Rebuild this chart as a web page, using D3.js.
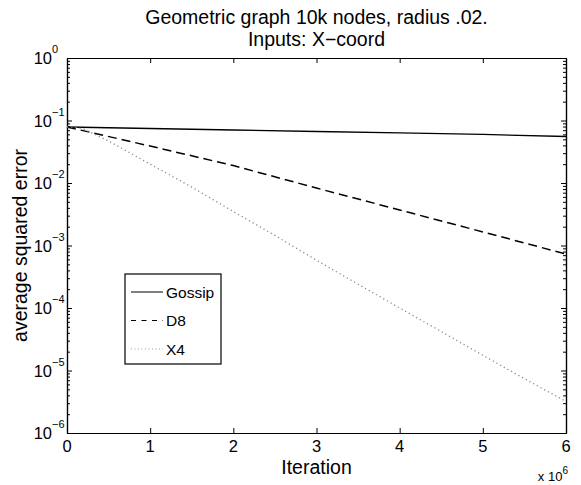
<!DOCTYPE html>
<html><head><meta charset="utf-8">
<script src="https://cdn.jsdelivr.net/npm/d3@7"></script>
<style>
body{margin:0;background:#fff;}
svg{font-family:"Liberation Sans",Arial,Helvetica,sans-serif;}
</style></head>
<body><svg id="chart" width="581" height="485"></svg>
<script>
// ---- data (x in units of 10^6 iterations) ----
const titleLines = ["Geometric graph 10k nodes, radius .02.", "Inputs: X\u2212coord"];
const seriesNames = ["Gossip", "D8", "X4"];
const gossipX = [0, 1, 2, 3, 4, 5, 6];
const gossipY = [0.0787, 0.0745, 0.0705, 0.0667, 0.0632, 0.0598, 0.0555];
const d8X = [0, 1, 2, 3, 4, 5, 6];
const d8Y = [0.0787, 0.039, 0.019, 0.0083, 0.0037, 0.00165, 0.00073];
const x4X = [0, 0.1, 0.2, 0.3, 0.5, 1, 1.5, 2, 2.5, 3, 3.5, 4, 4.5, 5, 5.5, 6];
const x4Y = [0.0787, 0.078, 0.073, 0.063, 0.047, 0.020, 0.0086, 0.0035, 0.00145, 0.00058, 0.00024, 0.0001, 0.000042, 0.0000175, 0.0000074, 0.0000032];
const xTicks = [0, 1, 2, 3, 4, 5, 6];
const yExponents = [0, -1, -2, -3, -4, -5, -6];

const svg = d3.select("#chart");
const L = 67, R = 566, T = 58, B = 433;
const x = d3.scaleLinear().domain([0, 6]).range([L, R]);
const y = d3.scaleLog().domain([1e-6, 1]).range([B, T]);

const decades = yExponents.map(e => Math.pow(10, e));
const minors = [];
for (let e = -6; e < 0; e++) for (let m = 2; m <= 9; m++) minors.push(m * Math.pow(10, e));

function styleAxis(g) {
  g.select(".domain").attr("stroke", "#000").attr("stroke-width", 1.2);
  g.selectAll(".tick line").attr("stroke", "#000");
  g.selectAll("text").remove();
}
svg.append("g").attr("transform", `translate(0,${B})`)
  .call(d3.axisBottom(x).tickValues(xTicks).tickSizeInner(-5).tickSizeOuter(0)).call(styleAxis);
svg.append("g").attr("transform", `translate(0,${T})`)
  .call(d3.axisTop(x).tickValues(xTicks).tickSizeInner(-5).tickSizeOuter(0)).call(styleAxis);
svg.append("g").attr("transform", `translate(${L},0)`)
  .call(d3.axisLeft(y).tickValues(decades).tickSizeInner(-5).tickSizeOuter(0)).call(styleAxis);
svg.append("g").attr("transform", `translate(${L},0)`)
  .call(d3.axisLeft(y).tickValues(minors).tickSizeInner(-3).tickSizeOuter(0)).call(styleAxis);
svg.append("g").attr("transform", `translate(${R},0)`)
  .call(d3.axisRight(y).tickValues(decades).tickSizeInner(-5).tickSizeOuter(0)).call(styleAxis);
svg.append("g").attr("transform", `translate(${R},0)`)
  .call(d3.axisRight(y).tickValues(minors).tickSizeInner(-3).tickSizeOuter(0)).call(styleAxis);

// x tick labels
svg.append("g").selectAll("text").data(xTicks).join("text")
  .attr("x", d => x(d)).attr("y", B + 19).attr("text-anchor", "middle")
  .attr("font-size", 16.5).text(d => d);
// multiplier
const mult = svg.append("text").attr("x", 568).attr("y", 481).attr("font-size", 13).attr("text-anchor", "end");
mult.append("tspan").text("x 10");
mult.append("tspan").attr("dy", -7).attr("font-size", 10).text("6");

// y tick labels
const yl = svg.append("g").selectAll("text").data(yExponents).join("text")
  .attr("x", 52).attr("y", d => y(Math.pow(10, d)) + 6).attr("font-size", 16.5);
yl.append("tspan").attr("text-anchor", "end").text("10");
yl.each(function(d) {
  d3.select(this).append("tspan").attr("dy", -11).attr("font-size", 11)
    .text(d === 0 ? "0" : "\u2212" + Math.abs(d));
});
// right-align "10" so the exponent follows it
yl.each(function() {
  const t = d3.select(this);
  const w = t.select("tspan").node().getComputedTextLength();
  t.attr("text-anchor", null).select("tspan").attr("text-anchor", null);
  t.attr("x", 52 - w);
});

// axis labels
svg.append("text").attr("x", (L + R) / 2).attr("y", 474).attr("text-anchor", "middle").attr("font-size", 19.5).text("Iteration");
svg.append("text").attr("transform", `translate(27,${(T + B) / 2}) rotate(-90)`).attr("text-anchor", "middle")
  .attr("font-size", 19.5).text("average squared error");

// title
svg.append("g").selectAll("text").data(titleLines).join("text")
  .attr("x", (L + R) / 2).attr("y", (d, i) => 24 + i * 22).attr("text-anchor", "middle").attr("font-size", 19.5).text(d => d);

// lines
const line = d3.line().x(d => x(d[0])).y(d => y(d[1]));
const series = [
  {name: seriesNames[0], pts: d3.zip(gossipX, gossipY), stroke: "#000", dash: null, w: 1.3},
  {name: seriesNames[1], pts: d3.zip(d8X, d8Y), stroke: "#000", dash: "9,5", w: 1.5},
  {name: seriesNames[2], pts: d3.zip(x4X, x4Y), stroke: "#888", dash: "1.2,3", w: 1.3}
];
svg.append("g").selectAll("path").data(series).join("path")
  .attr("d", d => line(d.pts)).attr("fill", "none")
  .attr("stroke", d => d.stroke).attr("stroke-width", d => d.w)
  .attr("stroke-dasharray", d => d.dash);

// legend
const lg = svg.append("g");
lg.append("rect").attr("x", 125).attr("y", 274).attr("width", 96).attr("height", 90)
  .attr("fill", "#fff").attr("stroke", "#000").attr("stroke-width", 1.2);
const legendDash = [null, "5,5.5", "1,2.5"];
series.forEach((s, i) => {
  const yy = 292 + i * 28.5;
  lg.append("line").attr("x1", 131).attr("x2", 163).attr("y1", yy).attr("y2", yy)
    .attr("stroke", i === 2 ? "#999" : s.stroke).attr("stroke-width", 1).attr("stroke-dasharray", legendDash[i]);
  lg.append("text").attr("x", 166).attr("y", yy + 5.5).attr("font-size", 15.5).text(s.name);
});
</script></body></html>
